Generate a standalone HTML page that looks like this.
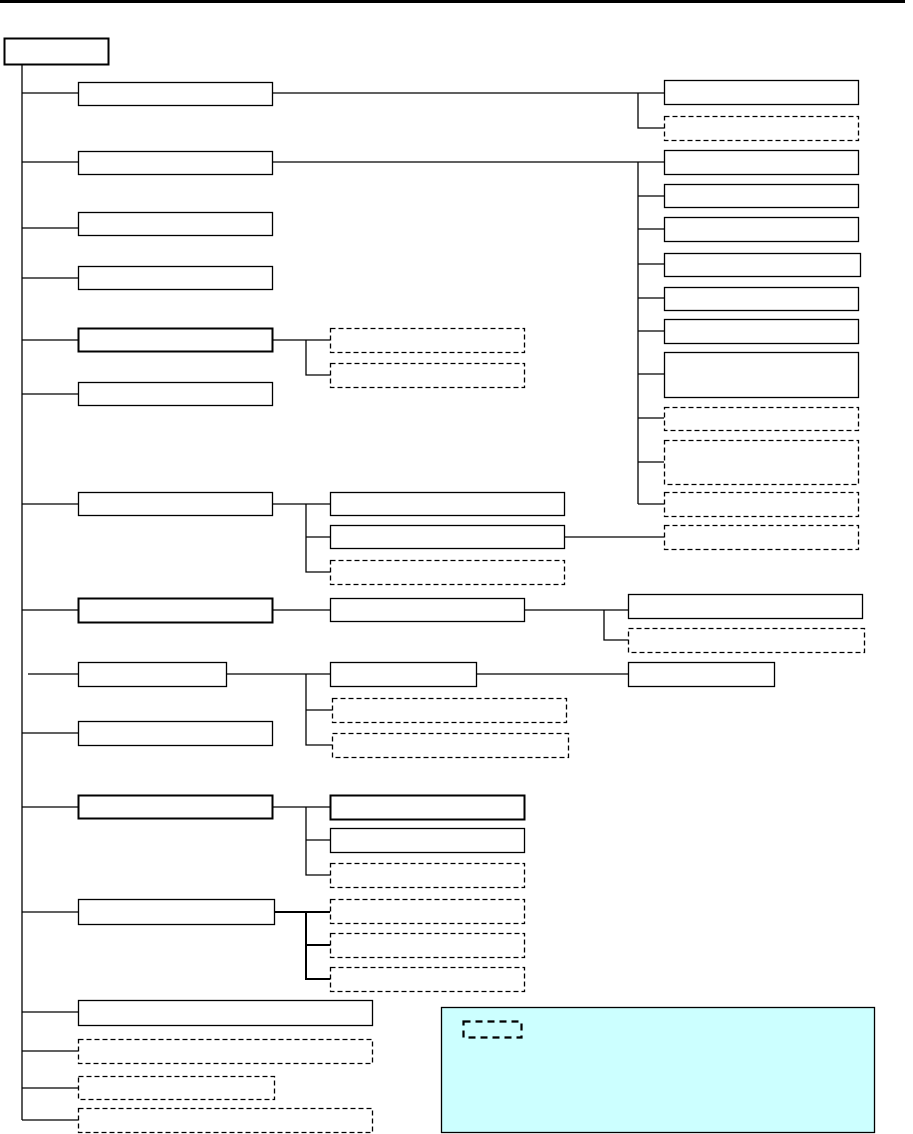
<!DOCTYPE html>
<html><head><meta charset="utf-8"><style>html,body{margin:0;padding:0;background:#fff}svg{display:block}</style></head>
<body>
<svg width="913" height="1134" viewBox="0 0 913 1134" xmlns="http://www.w3.org/2000/svg">
<g fill="none" stroke="#000" stroke-width="1.3">
<line x1="0" y1="1.5" x2="905" y2="1.5" stroke-width="3"/>
<rect x="4.5" y="38.5" width="104" height="26" stroke-width="2"/>
<line x1="22" y1="64" x2="22" y2="1120"/>
<!-- level1 connectors -->
<path d="M22 93H78 M22 162H78 M22 228H78 M22 278H78 M22 340H78 M22 394H78 M22 504H78 M22 610H78 M28 674H78 M22 733H78 M22 807H78 M22 912H78 M22 1012H78 M22 1051H78 M22 1088H78 M22 1120H78"/>
<!-- level1 boxes -->
<rect x="78.5" y="82.5" width="194" height="23"/>
<rect x="78.5" y="151.5" width="194" height="23"/>
<rect x="78.5" y="212.5" width="194" height="23"/>
<rect x="78.5" y="266.5" width="194" height="23"/>
<rect x="78.5" y="328.5" width="194" height="23" stroke-width="2"/>
<rect x="78.5" y="382.5" width="194" height="23"/>
<rect x="78.5" y="492.5" width="194" height="23"/>
<rect x="78.5" y="598.5" width="194" height="24" stroke-width="2"/>
<rect x="78.5" y="662.5" width="148" height="24"/>
<rect x="78.5" y="721.5" width="194" height="24"/>
<rect x="78.5" y="795.5" width="194" height="23" stroke-width="2"/>
<rect x="78.5" y="899.5" width="196" height="25"/>
<rect x="78.5" y="1000.5" width="294" height="25"/>
<g stroke-dasharray="5,3">
<rect x="78.5" y="1039.5" width="294" height="24"/>
<rect x="78.5" y="1076.5" width="196" height="23"/>
<rect x="78.5" y="1108.5" width="294" height="24"/>
</g>
<!-- box1 branch -->
<path d="M272 93H664 M638 93V128H664"/>
<rect x="664.5" y="80.5" width="194" height="24"/>
<rect x="664.5" y="116.5" width="194" height="24" stroke-dasharray="5,3"/>
<!-- box2 branch -->
<path d="M272 162H664 M638 162V504"/>
<path d="M638 196H664 M638 229H664 M638 264H664 M638 298H664 M638 331H664 M638 374H664 M638 418H664 M638 462H664 M638 504H664"/>
<rect x="664.5" y="150.5" width="194" height="24"/>
<rect x="664.5" y="184.5" width="194" height="23"/>
<rect x="664.5" y="217.5" width="194" height="24"/>
<rect x="664.5" y="253.5" width="196" height="23"/>
<rect x="664.5" y="287.5" width="194" height="23"/>
<rect x="664.5" y="319.5" width="194" height="24"/>
<rect x="664.5" y="352.5" width="194" height="45"/>
<g stroke-dasharray="5,3">
<rect x="664.5" y="407.5" width="194" height="23"/>
<rect x="664.5" y="440.5" width="194" height="44"/>
<rect x="664.5" y="492.5" width="194" height="24"/>
</g>
<!-- box5 -->
<path d="M272 340H330 M306 340V375H330"/>
<g stroke-dasharray="5,3">
<rect x="330.5" y="328.5" width="194" height="24"/>
<rect x="330.5" y="363.5" width="194" height="24"/>
</g>
<!-- box7 -->
<path d="M272 504H330 M306 504V572H330 M306 537H330 M564 537H664"/>
<rect x="330.5" y="492.5" width="234" height="23"/>
<rect x="330.5" y="525.5" width="234" height="23"/>
<rect x="330.5" y="560.5" width="234" height="24" stroke-dasharray="5,3"/>
<rect x="664.5" y="525.5" width="194" height="24" stroke-dasharray="5,3"/>
<!-- box8 -->
<path d="M272 610H330 M524 610H628 M604 610V640H628"/>
<rect x="330.5" y="598.5" width="194" height="23"/>
<rect x="628.5" y="594.5" width="234" height="24"/>
<rect x="628.5" y="628.5" width="236" height="24" stroke-dasharray="5,3"/>
<!-- box9 -->
<path d="M226 674H330 M306 674V745H332 M306 710H332 M476 674H628"/>
<rect x="330.5" y="662.5" width="146" height="24"/>
<rect x="628.5" y="662.5" width="146" height="24"/>
<g stroke-dasharray="5,3">
<rect x="332.5" y="698.5" width="234" height="24"/>
<rect x="332.5" y="733.5" width="236" height="24"/>
</g>
<!-- box11 -->
<path d="M272 807H330 M306 807V875H330 M306 840H330"/>
<rect x="330.5" y="795.5" width="194" height="24" stroke-width="2"/>
<rect x="330.5" y="828.5" width="194" height="24"/>
<rect x="330.5" y="863.5" width="194" height="24" stroke-dasharray="5,3"/>
<!-- box12 -->
<path d="M274 912H330 M306 912V979H330 M306 945H330" stroke-width="2"/>
<g stroke-dasharray="5,3">
<rect x="330.5" y="899.5" width="194" height="24"/>
<rect x="330.5" y="933.5" width="194" height="24"/>
<rect x="330.5" y="967.5" width="194" height="24"/>
</g>
<!-- legend -->
<rect x="441.5" y="1007.5" width="433" height="125" fill="#CCFFFF"/>
<rect x="463.5" y="1021.5" width="58" height="16" stroke-width="2.2" stroke-dasharray="7,5"/>
</g>
</svg>
</body></html>
